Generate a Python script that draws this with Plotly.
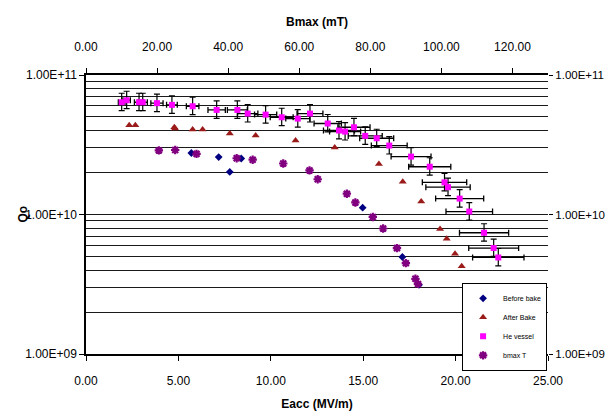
import plotly.graph_objects as go

# ---- data ----
before_eacc = [5.70, 7.18, 7.78, 8.40, 14.97, 17.12, 18.02]
before_q = [2.76e10, 2.58e10, 2.02e10, 2.52e10, 1.12e10, 4.96e9, 3.13e9]

after_eacc = [2.34, 2.67, 4.78, 4.82, 5.77, 6.31, 7.78, 9.18, 11.34, 13.46,
              15.85, 17.14, 18.14, 19.16, 19.52, 19.97, 20.33]
after_q = [4.36e10, 4.36e10, 4.22e10, 4.13e10, 4.06e10, 4.06e10, 3.80e10, 3.68e10,
           3.39e10, 3.02e10, 2.30e10, 1.72e10, 1.24e10, 7.87e9, 6.70e9, 5.23e9, 4.26e9]

he_eacc = [1.93, 2.20, 2.87, 3.07, 3.84, 4.65, 5.77, 7.07, 8.19, 8.75, 9.72, 10.59,
           11.46, 12.12, 13.08, 13.69, 14.02, 14.50, 15.11, 15.73, 16.41, 17.59,
           18.60, 19.40, 19.59, 20.22, 20.74, 21.54, 22.06, 22.31]
he_q = [6.38e10, 6.59e10, 6.38e10, 6.38e10, 6.28e10, 6.11e10, 5.97e10, 5.62e10,
        5.62e10, 5.29e10, 5.20e10, 4.98e10, 4.87e10, 5.29e10, 4.49e10, 4.00e10,
        3.93e10, 4.22e10, 3.66e10, 3.52e10, 3.12e10, 2.60e10, 2.20e10, 1.70e10,
        1.57e10, 1.30e10, 1.05e10, 7.40e9, 5.75e9, 4.92e9]
he_eacc_err = [0.18, 0.20, 0.25, 0.25, 0.33, 0.29, 0.34, 0.47, 0.54, 0.55, 0.60, 0.62,
               0.65, 0.70, 0.74, 0.84, 0.84, 0.87, 0.92, 0.92, 0.97, 1.08, 1.14, 1.20,
               1.20, 1.30, 1.26, 1.33, 1.35, 1.39]

bmax_mt = [20.5, 25.1, 31.1, 42.4, 46.9, 55.5, 62.9, 65.2, 73.4, 75.8, 80.7, 83.6,
           87.5, 90.0, 92.7, 93.4]
bmax_q = [2.88e10, 2.90e10, 2.72e10, 2.53e10, 2.47e10, 2.32e10, 2.07e10, 1.79e10,
          1.41e10, 1.22e10, 9.60e9, 7.94e9, 5.74e9, 4.48e9, 3.46e9, 3.18e9]

y_tickvals = [1e9, 1e10, 1e11]
y_ticktext = ["1.00E+09", "1.00E+10", "1.00E+11"]

FONT = "Liberation Sans, Arial, sans-serif"

fig = go.Figure()
fig.add_trace(go.Scatter(x=before_eacc, y=before_q, mode="markers", name="Before bake",
                         marker=dict(symbol="diamond", size=6, color="#000080")))
fig.add_trace(go.Scatter(x=after_eacc, y=after_q, mode="markers", name="After Bake",
                         marker=dict(symbol="triangle-up", size=7, color="#9B1B1B")))
fig.add_trace(go.Scatter(x=he_eacc, y=he_q, mode="markers", name="He vessel",
                         marker=dict(symbol="square", size=6, color="#FF00FF"),
                         error_x=dict(type="data", array=he_eacc_err, color="black",
                                      thickness=1.3, width=3),
                         error_y=dict(type="percent", symmetric=False, value=16,
                                      valueminus=13, color="black", thickness=1.2, width=3)))
fig.add_trace(go.Scatter(x=bmax_mt, y=bmax_q, mode="markers", name="bmax T",
                         xaxis="x2", yaxis="y2",
                         marker=dict(symbol="asterisk", size=7, color="#800080",
                                     line=dict(color="#800080", width=2.2))))

grid = "#1a1a1a"
fig.update_layout(
    width=607, height=417,
    margin=dict(l=86, r=59, t=75, b=63),
    paper_bgcolor="white", plot_bgcolor="white",
    font=dict(family=FONT, size=12, color="black"),
    showlegend=True,
    legend=dict(x=0.998, xanchor="right", y=0.255, yanchor="top",
                bgcolor="white", bordercolor="black", borderwidth=1,
                font=dict(size=7, family=FONT), itemwidth=30, tracegroupgap=0),
    xaxis=dict(range=[0, 25], dtick=5, tickformat=".2f", showgrid=False, zeroline=False,
               automargin=False,
               showline=True, linecolor="black", linewidth=1.5,
               ticks="outside", ticklen=5, tickcolor="black", ticklabelstandoff=10,
               title=dict(text="<b>Eacc (MV/m)</b>", standoff=12, font=dict(size=12))),
    xaxis2=dict(range=[0, 130], dtick=20, tickformat=".2f", overlaying="x", side="top",
                anchor="y", showgrid=False, zeroline=False, showline=True, automargin=False,
                linecolor="black", linewidth=1.5, ticks="outside", ticklen=5,
                tickcolor="black", ticklabelstandoff=12,
                title=dict(text="<b>Bmax (mT)</b>", standoff=11, font=dict(size=12))),
    yaxis=dict(type="log", range=[9, 11], tickvals=y_tickvals, ticktext=y_ticktext,
               showgrid=True, gridcolor=grid, gridwidth=1.3, zeroline=False,
               automargin=False,
               showline=True, linecolor="black", linewidth=1.5,
               ticks="outside", ticklen=5, tickcolor="black",
               minor=dict(dtick="D1", showgrid=True, gridcolor=grid, gridwidth=1.3, ticks="")),
    yaxis2=dict(type="log", range=[9, 11], tickvals=y_tickvals, ticktext=y_ticktext,
                overlaying="y", side="right", anchor="x", showgrid=False, zeroline=False,
                automargin=False, tickfont=dict(size=11.5),
                showline=False, ticks="outside", ticklen=4, tickcolor="black"),
    annotations=[dict(text="<b>Qo</b>", textangle=-90, xref="paper", yref="paper",
                      x=-0.1385, y=0.5, xanchor="center", yanchor="middle",
                      showarrow=False, font=dict(size=12, family=FONT))],
)

fig.write_html("out.html", config={"displayModeBar": False},
               post_script="document.body.style.margin='0';document.body.style.overflow='hidden';")
